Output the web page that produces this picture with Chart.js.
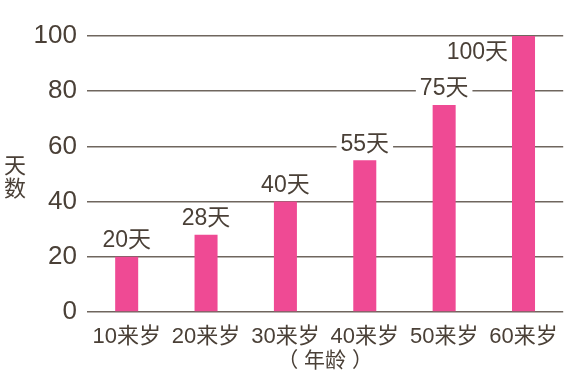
<!DOCTYPE html>
<html>
<head>
<meta charset="utf-8">
<script src="https://cdn.jsdelivr.net/npm/chart.js@4"></script>
<style>
  html, body { margin: 0; padding: 0; background: #fff; }
  #wrap { width: 570px; height: 377px; }
</style>
</head>
<body>
<div id="wrap"><canvas id="ageChart"></canvas></div>
<script>
const ageGroups = ["10来岁", "20来岁", "30来岁", "40来岁", "50来岁", "60来岁"];
const days = [20, 28, 40, 55, 75, 100];
const dayLabels = ["20天", "28天", "40天", "55天", "75天", "100天"];
const yTitle = ["天", "数"];
const xTitle = "（ 年龄 ）";

const textColor = "#4a4037";
const gridColor = "#6f665e";
const barColor = "#ef4a94";
const fontFamily = '"Liberation Sans", "Noto Sans CJK SC", sans-serif';

// value labels on top of bars, white box behind so gridlines get masked
const barLabels = {
  id: "barLabels",
  afterDatasetsDraw(chart) {
    const ctx = chart.ctx;
    const bars = chart.getDatasetMeta(0).data;
    ctx.save();
    ctx.font = "23px " + fontFamily;
    ctx.textBaseline = "middle";
    bars.forEach((bar, i) => {
      const txt = dayLabels[i];
      const w = ctx.measureText(txt).width;
      let x, y;
      if (days[i] >= chart.scales.y.max) {
        // no room above, put it left of the bar
        ctx.textAlign = "right";
        x = bar.x - bar.width / 2 - 4;
        y = bar.y + 17;
        ctx.fillStyle = "#fff";
        ctx.fillRect(x - w - 2, y - 12, w + 4, 24);
      } else {
        ctx.textAlign = "center";
        x = bar.x;
        y = bar.y - 16;
        ctx.fillStyle = "#fff";
        ctx.fillRect(x - w / 2 - 4, y - 12, w + 8, 24);
      }
      ctx.fillStyle = textColor;
      ctx.fillText(txt, x, y);
    });
    ctx.restore();
  },
};

// stacked vertical y title
const yTitlePlugin = {
  id: "yTitlePlugin",
  afterDraw(chart) {
    const ctx = chart.ctx;
    ctx.save();
    ctx.font = "22px " + fontFamily;
    ctx.fillStyle = textColor;
    ctx.textAlign = "center";
    ctx.textBaseline = "middle";
    yTitle.forEach((ch, i) => ctx.fillText(ch, 15, 167 + i * 23));
    ctx.restore();
  },
};

const ctx = document.getElementById("ageChart").getContext("2d");
new Chart(ctx, {
  type: "bar",
  data: {
    labels: ageGroups,
    datasets: [
      {
        data: days,
        backgroundColor: barColor,
        borderWidth: 0,
        barPercentage: 0.29,
        categoryPercentage: 1,
      },
    ],
  },
  options: {
    responsive: true,
    maintainAspectRatio: false,
    animation: false,
    layout: { padding: { top: 36, right: 3, left: 0, bottom: 0 } },
    plugins: {
      legend: { display: false },
      tooltip: { enabled: false },
    },
    scales: {
      x: {
        grid: { display: false, drawTicks: false },
        border: { display: false },
        ticks: {
          color: textColor,
          font: { size: 22, family: fontFamily },
          padding: 12,
          maxRotation: 0,
        },
        title: {
          display: true,
          text: xTitle,
          color: textColor,
          font: { size: 21, family: fontFamily },
          padding: { top: 0, bottom: 3 },
        },
        afterFit(scale) {
          scale.height = 65;
        },
      },
      y: {
        min: 0,
        max: 100,
        grid: { color: gridColor, lineWidth: 1.5, drawTicks: false },
        border: { display: false },
        ticks: {
          stepSize: 20,
          color: textColor,
          font: { size: 26, family: fontFamily },
          padding: 10,
        },
        afterFit(scale) {
          scale.width = 87;
        },
      },
    },
  },
  plugins: [barLabels, yTitlePlugin],
});
</script>
</body>
</html>
